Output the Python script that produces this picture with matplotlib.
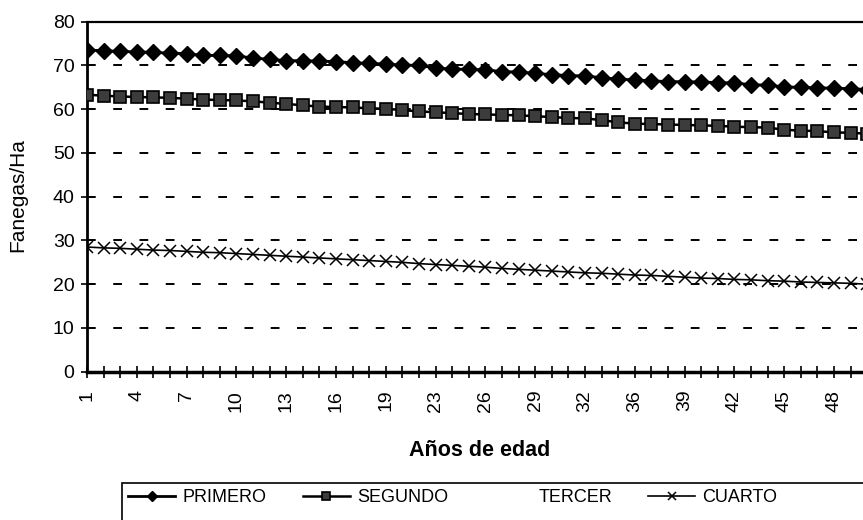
import matplotlib
matplotlib.use('Agg')
import matplotlib.pyplot as plt
from matplotlib.lines import Line2D
from matplotlib.patches import Rectangle

plt.rcParams['font.family'] = ['Liberation Sans', 'DejaVu Sans']

# ---- data ----
edad = list(range(1, 20)) + [20, 21] + list(range(23, 35)) + list(range(36, 52))

primero = [73.5, 73.4, 73.2, 73.1, 73.0, 72.8, 72.7, 72.3, 72.3, 72.2,
           71.7, 71.4, 71.1, 71.1, 71.0, 70.9, 70.6, 70.5, 70.3, 70.1,
           70.0, 69.4, 69.2, 69.1, 69.0, 68.6, 68.5, 68.2, 67.9, 67.7,
           67.6, 67.2, 66.9, 66.7, 66.5, 66.3, 66.3, 66.2, 66.1, 66.0,
           65.6, 65.5, 65.1, 65.0, 64.9, 64.8, 64.7, 64.5, 64.3]
segundo = [63.3, 63.1, 62.9, 62.8, 62.7, 62.6, 62.4, 62.2, 62.1, 62.0,
           61.8, 61.5, 61.2, 60.9, 60.6, 60.5, 60.4, 60.2, 60.1, 59.8,
           59.5, 59.3, 59.1, 58.9, 58.8, 58.7, 58.6, 58.4, 58.2, 58.0,
           57.9, 57.5, 57.0, 56.7, 56.6, 56.5, 56.4, 56.3, 56.2, 56.0,
           55.9, 55.8, 55.3, 55.1, 55.0, 54.7, 54.6, 54.4, 54.2]
cuarto = [28.5, 28.3, 28.2, 28.0, 27.8, 27.7, 27.5, 27.3, 27.2, 27.0,
          26.8, 26.6, 26.4, 26.2, 26.0, 25.8, 25.6, 25.4, 25.2, 25.0,
          24.7, 24.5, 24.3, 24.1, 23.9, 23.6, 23.4, 23.2, 23.0, 22.8,
          22.6, 22.5, 22.3, 22.1, 22.0, 21.8, 21.6, 21.4, 21.3, 21.1,
          21.0, 20.8, 20.7, 20.5, 20.4, 20.3, 20.2, 20.0, 19.9]
series_names = ['PRIMERO', 'SEGUNDO', 'TERCER', 'CUARTO']
y_ticks = [0, 10, 20, 30, 40, 50, 60, 70, 80]
grid_levels = [10, 20, 30, 40, 50, 60, 70]
x_title = 'Años de edad'
y_title = 'Fanegas/Ha'

# ---- figure ----
W, H = 863, 520
fig = plt.figure(figsize=(W / 100, H / 100), dpi=100)
step_px = 16.6
ncat = len(edad)
xmax = ncat - 0.5
ax = fig.add_axes([87 / W, (H - 371.7) / H, xmax * step_px / W, 350 / H])

x = list(range(ncat))

for lv in grid_levels:
    ax.axhline(lv, color='black', lw=1.4, ls=(0, (4.5, 9)), zorder=1)

l1, = ax.plot(x, primero, color='black', lw=2.0, marker='D', ms=8,
              mfc='black', mec='black', zorder=3)
l2, = ax.plot(x, segundo, color='black', lw=1.8, marker='s', ms=9,
              mfc='#3c3c3c', mec='black', mew=1.2, zorder=3)
l4, = ax.plot(x, cuarto, color='black', lw=1.2, marker='x', ms=8,
              mew=1.1, zorder=3)
l3 = Line2D([], [], linestyle='none', marker='none')

# only the labels that fall inside the visible picture (the reference is cropped)
visible_last = 45
ax.set_xlim(0, xmax)
ax.set_ylim(0, 80)
ax.set_yticks(y_ticks)
ax.set_yticklabels([str(v) for v in y_ticks])
ax.set_xticks(x)
ax.set_xticklabels([str(e) if (i % 3 == 0 and i <= visible_last) else ''
                    for i, e in enumerate(edad)], rotation=90)

ax.tick_params(axis='y', direction='inout', length=8, width=1.2, pad=5,
               labelsize=14)
ax.tick_params(axis='x', direction='inout', length=8, width=1.2, pad=9,
               labelsize=14)

ax.spines['left'].set_linewidth(2.0)
ax.spines['bottom'].set_linewidth(2.5)
ax.spines['top'].set_linewidth(1.6)
ax.spines['right'].set_visible(False)

ax.set_xlabel(x_title, fontsize=15.5, fontweight='bold')
ax.xaxis.set_label_coords((480 - 87) / (xmax * step_px), -(450 - 371.7) / 350)
ax.xaxis.label.set_va('center')
fig.text(18 / W, 1 - 195 / H, y_title, rotation=90, fontsize=15,
         ha='center', va='center')

leg = fig.legend([l1, l2, l3, l4], series_names, ncol=4,
                 loc='upper left', bbox_to_anchor=(122 / W, 1 - 483 / H),
                 borderaxespad=0, frameon=False,
                 handlelength=2.6, handletextpad=0.4, columnspacing=2.0,
                 borderpad=0.35, markerscale=0.7, fontsize=13)
# legend box continues past the right and bottom edges, as in the cropped reference
fig.patches.append(Rectangle((122 / W, -0.05), 0.2, 1 - 483 / H + 0.05,
                             transform=fig.transFigure, fill=False,
                             edgecolor='black', lw=1.2))
fig.patches[-1].set_width(1.0)

fig.savefig('out.png', dpi=100)
